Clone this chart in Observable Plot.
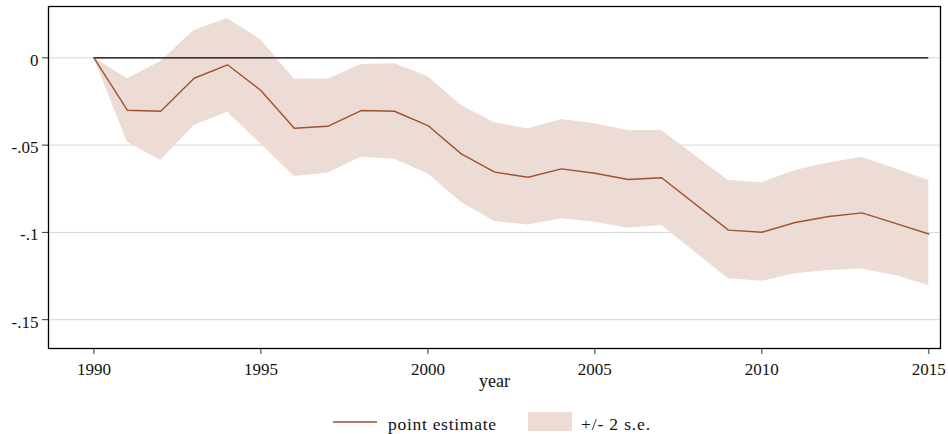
<!DOCTYPE html>
<html>
<head>
<meta charset="utf-8">
<script src="https://cdn.jsdelivr.net/npm/d3@7"></script>
<script src="https://cdn.jsdelivr.net/npm/@observablehq/plot@0.6"></script>
<style>
  html, body { margin: 0; padding: 0; background: #fff; }
  body { width: 948px; height: 434px; overflow: hidden; font-family: "Liberation Serif", "Times New Roman", serif; }
  #legend { position: relative; height: 39px; width: 948px; }
  svg text { font-family: "Liberation Serif", "Times New Roman", serif !important; }
</style>
</head>
<body>
<div id="chart"></div>
<div id="legend">
  <svg width="948" height="39" style="position:absolute;left:0;top:0">
    <line x1="333" x2="377" y1="27" y2="27" stroke="#a0522d" stroke-width="1.5"></line>
    <rect x="528" y="17" width="44" height="19" fill="#eddcd5"></rect>
    <text x="388" y="35" font-size="17.5" fill="#111" textLength="108" lengthAdjust="spacing">point estimate</text>
    <text x="581" y="35" font-size="17.5" fill="#111" textLength="69" lengthAdjust="spacing">+/- 2 s.e.</text>
  </svg>
</div>
<script>
const years = [1990,1991,1992,1993,1994,1995,1996,1997,1998,1999,2000,2001,2002,2003,2004,2005,2006,2007,2009,2010,2011,2012,2013,2014,2015];
const pointEstimate = [0,-0.0300,-0.0306,-0.0117,-0.0040,-0.0187,-0.0403,-0.0392,-0.0302,-0.0306,-0.0388,-0.0550,-0.0655,-0.0684,-0.0636,-0.0661,-0.0697,-0.0687,-0.0987,-0.0999,-0.0943,-0.0909,-0.0888,-0.0948,-0.1009];
const upperBand = [0,-0.0120,-0.0021,0.0157,0.0225,0.0103,-0.0122,-0.0122,-0.0038,-0.0034,-0.0107,-0.0273,-0.0372,-0.0407,-0.0353,-0.0378,-0.0416,-0.0416,-0.0702,-0.0716,-0.0646,-0.0602,-0.0569,-0.0636,-0.0702];
const lowerBand = [0,-0.0483,-0.0588,-0.0388,-0.0312,-0.0493,-0.0680,-0.0661,-0.0569,-0.0581,-0.0664,-0.0827,-0.0938,-0.0957,-0.0922,-0.0942,-0.0976,-0.0960,-0.1266,-0.1280,-0.1237,-0.1218,-0.1209,-0.1247,-0.1304];
const xTicks = [1990,1995,2000,2005,2010,2015];
const yTicks = [0,-0.05,-0.1,-0.15];
const yTickLabels = ["0","-.05","-.1","-.15"];
const xLabel = "year";

const rows = years.map((y, i) => ({year: y, est: pointEstimate[i], lo: lowerBand[i], hi: upperBand[i]}));
const fmtY = d => yTickLabels[yTicks.indexOf(d)] ?? "";
const fmtX = d => String(d);

const chart = Plot.plot({
  width: 948,
  height: 395,
  marginTop: 6,
  marginBottom: 47,
  marginLeft: 48,
  marginRight: 8,
  style: {fontFamily: "'Liberation Serif', 'Times New Roman', serif", fontSize: "17px", color: "#111", background: "#fff"},
  x: {domain: [1988.64, 2015.35]},
  y: {domain: [-0.1665, 0.0294]},
  marks: [
    Plot.gridY(yTicks, {stroke: "#d6d6d6", strokeOpacity: 1, strokeWidth: 1}),
    Plot.areaY(rows, {x: "year", y1: "lo", y2: "hi", fill: "#eddcd5", fillOpacity: 1}),
    Plot.ruleY([0], {x1: years[0], x2: years[years.length - 1], stroke: "#000", strokeWidth: 1.3}),
    Plot.lineY(rows, {x: "year", y: "est", stroke: "#a0522d", strokeWidth: 1.4}),
    Plot.axisY(yTicks, {tickSize: 6, tickFormat: () => "", label: null, stroke: "#333"}),
    Plot.text(yTicks, {y: d => d, text: fmtY, frameAnchor: "left", dx: -10, dy: 2.5, textAnchor: "end", fontSize: 17, fill: "#111"}),
    Plot.axisX(xTicks, {tickSize: 6, tickPadding: 8, label: null, fontSize: 17, stroke: "#333", tickFormat: fmtX}),
    Plot.text([xLabel], {text: d => d, frameAnchor: "bottom", dy: 38.5, fontSize: 18, fill: "#111"}),
    Plot.frame({stroke: "#000", strokeWidth: 1.3})
  ]
});
document.getElementById("chart").appendChild(chart);
</script>
</body>
</html>
